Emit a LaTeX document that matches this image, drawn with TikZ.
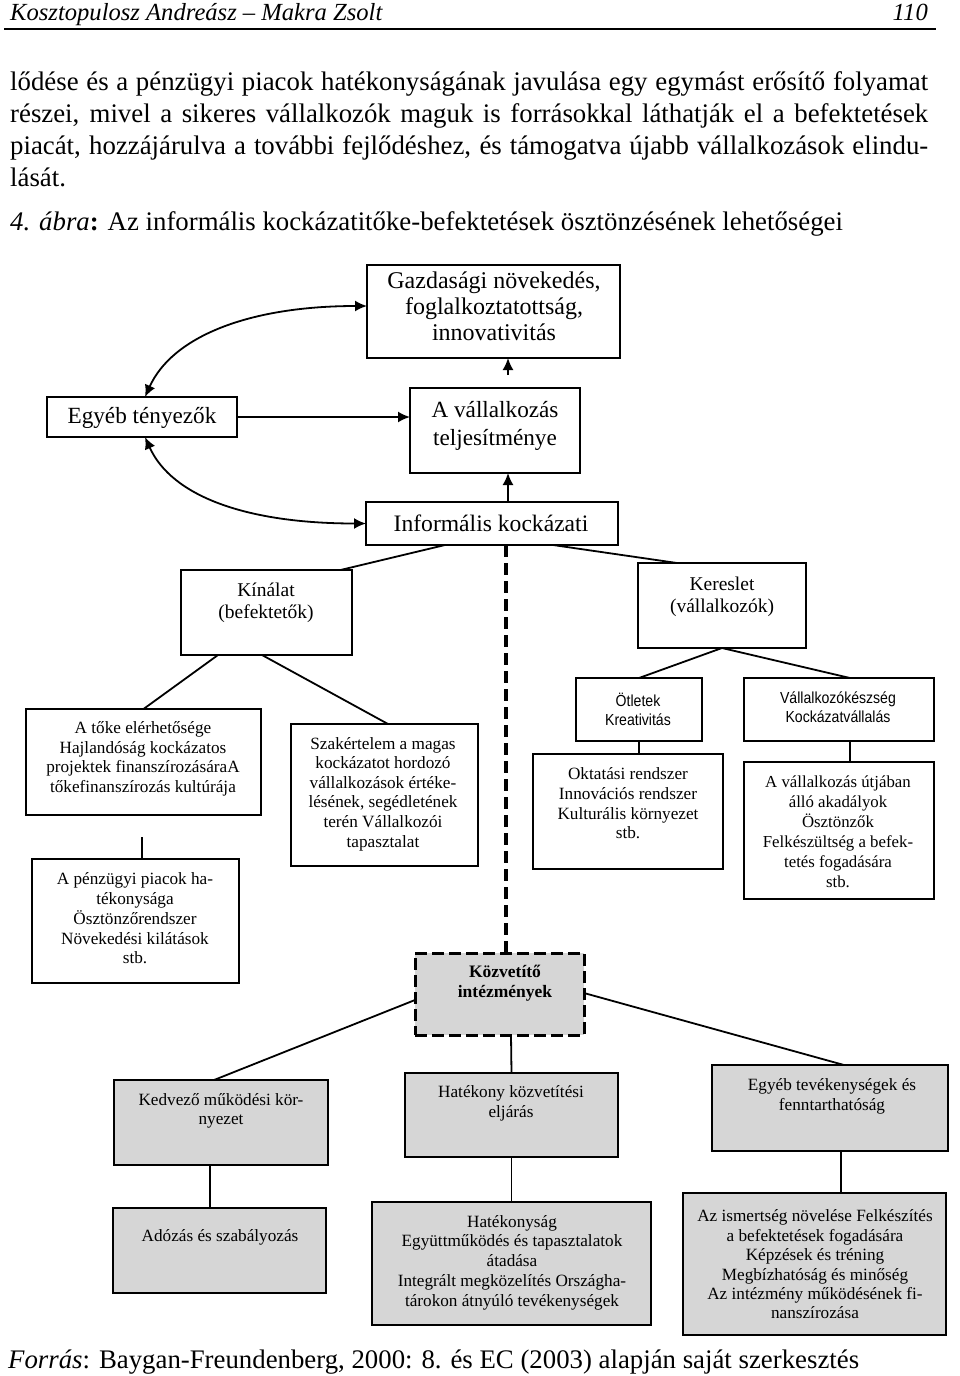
\documentclass[tikz,border=0pt]{standalone}
\usepackage{fontspec}
\setmainfont{Liberation Serif}
\newfontfamily\sansf[FakeStretch=0.88]{Liberation Sans}
\usetikzlibrary{arrows.meta}
\newcommand\fsz[2]{\fontsize{#1}{#2}\selectfont}
\begin{document}
\begin{tikzpicture}[x=1pt,y=-1pt,
  box/.style={draw, line width=1.8pt, inner sep=0pt, outer sep=0pt},
  gbox/.style={box, fill=black!16},
  kbox/.style={draw, fill=black!16, line width=3pt, dash pattern=on 12pt off 5pt, inner sep=0pt, outer sep=0pt},
  lbl/.style={align=center, inner sep=0pt},
  conn/.style={line width=1.8pt},
  arr/.style={line width=1.8pt, -{Latex[length=12pt,width=11pt]}},
  dbl/.style={line width=1.8pt, {Latex[length=12pt,width=11pt]}-{Latex[length=12pt,width=11pt]}},
  dashline/.style={line width=3.2pt, dash pattern=on 12pt off 6pt}
]
\useasboundingbox (0,0) rectangle (960,1376);
\fill[white] (0,0) rectangle (960,1376);

% header
\node[anchor=base west, inner sep=0pt, font=\fsz{24.6}{28}\itshape] (hd) at (10,20) {Kosztopulosz Andreász – Makra Zsolt};
\node[anchor=base east, inner sep=0pt, font=\fsz{24.6}{28}\itshape] (pg) at (928,20) {110};
\draw[line width=1.2pt] (4,29) -- (936,29);

% body
\node[anchor=base west, inner sep=0pt, font=\fsz{26.8}{32}] (p1) at (10,90) {\makebox[918pt][s]{lődése és a pénzügyi piacok hatékonyságának javulása egy egymást erősítő folyamat}};
\node[anchor=base west, inner sep=0pt, font=\fsz{26.8}{32}] (p2) at (10,122) {\makebox[918pt][s]{részei, mivel a sikeres vállalkozók maguk is forrásokkal láthatják el a befektetések}};
\node[anchor=base west, inner sep=0pt, font=\fsz{26.8}{32}] (p3) at (10,154) {\makebox[918pt][s]{piacát, hozzájárulva a további fejlődéshez, és támogatva újabb vállalkozások elindu-}};
\node[anchor=base west, inner sep=0pt, font=\fsz{26.8}{32}] (p4) at (10,186) {lását.};
\node[anchor=base west, inner sep=0pt, font=\fsz{26.8}{32}] (cap) at (10,230) {\textit{4. ábra}\textbf{:} Az informális kockázatitőke-befektetések ösztönzésének lehetőségei};

% top boxes
\node[box, minimum width=253pt, minimum height=93pt] (G) at (493.5,311.5) {};
\node[lbl, font=\fsz{24}{26}] (Gt) at (494,306) {Gazdasági növekedés,\\ foglalkoztatottság,\\ innovativitás};
\node[box, minimum width=190pt, minimum height=40pt] (E) at (142,417) {};
\node[lbl, font=\fsz{23.2}{26}] (Et) at (142,418) {Egyéb tényezők};
\node[box, minimum width=170pt, minimum height=85pt] (AV) at (495,430.5) {};
\node[lbl, font=\fsz{23.2}{28}] (AVt) at (495,426) {A vállalkozás\\ teljesítménye};
\node[box, minimum width=252pt, minimum height=43pt] (IK) at (492,523.5) {};
\node[lbl, font=\fsz{23.6}{26}] (IKt) at (491,523) {Informális kockázati};

% arrows top
\draw[arr] (E.east) -- (E.east -| AV.west);
\draw[arr] ([xshift=16pt]IK.north) -- ([xshift=16pt]IK.north |- AV.south);
\draw[arr, shorten <=13pt] ([xshift=13pt]AV.north) -- ([xshift=13pt]AV.north |- G.south);
\draw[dbl] ([xshift=3pt]E.north) .. controls (172,337) and (248,306) .. ([yshift=5.5pt]G.west);
\draw[dbl] ([xshift=3pt]E.south) .. controls (172,497) and (248,523.5) .. (IK.west);

% supply / demand
\node[box, minimum width=171pt, minimum height=85pt] (KI) at (266.5,612.5) {};
\node[lbl, font=\fsz{19.5}{22}] (KIt) at (266,603) {Kínálat\\ (befektetők)};
\node[box, minimum width=168pt, minimum height=85pt] (KE) at (722,605.5) {};
\node[lbl, font=\fsz{19.5}{22}] (KEt) at (722,597) {Kereslet\\ (vállalkozók)};
\draw[conn] ([xshift=-47pt]IK.south) -- ([xshift=74pt]KI.north);
\draw[conn] ([xshift=61pt]IK.south) -- ([xshift=-45pt]KE.north);

% left branch
\node[box, minimum width=235pt, minimum height=106pt] (AT) at (143.5,762) {};
\node[lbl, font=\fsz{17.2}{19.6}] (ATt) at (143,759) {A tőke elérhetősége\\ Hajlandóság kockázatos\\ projektek finanszírozásáraA\\ tőkefinanszírozás kultúrája};
\node[box, minimum width=207pt, minimum height=124pt] (PP) at (135.5,921) {};
\node[lbl, font=\fsz{17.2}{19.75}] (PPt) at (135,918.5) {A pénzügyi piacok ha-\\ tékonysága\\ Ösztönzőrendszer\\ Növekedési kilátások\\ stb.};
\node[box, minimum width=187pt, minimum height=142pt] (SZ) at (384.5,795) {};
\node[lbl, font=\fsz{17.2}{19.6}] (SZt) at (383,794) {Szakértelem a magas\\ kockázatot hordozó\\ vállalkozások értéke-\\ lésének, segédletének\\ terén Vállalkozói\\ tapasztalat};
\draw[conn] ([xshift=-48.5pt]KI.south) -- (AT.north);
\draw[conn] ([xshift=-4.5pt]KI.south) -- ([xshift=3.5pt]SZ.north);
\draw[conn, shorten <=22pt] ([xshift=-1.5pt]AT.south) -- ([xshift=6.5pt]PP.north);

% right branch
\node[box, minimum width=126pt, minimum height=63pt] (OT) at (639,709.5) {};
\node[lbl, font=\sansf\fsz{16}{19}] (OTt) at (638,709.5) {Ötletek\\ Kreativitás};
\node[box, minimum width=190pt, minimum height=63pt] (VK) at (839,709.5) {};
\node[lbl, font=\sansf\fsz{16}{19}] (VKt) at (838,707.5) {Vállalkozókészség\\ Kockázatvállalás};
\node[box, minimum width=190pt, minimum height=115pt] (OK) at (628,811.5) {};
\node[lbl, font=\fsz{17.2}{19.7}] (OKt) at (628,803.5) {Oktatási rendszer\\ Innovációs rendszer\\ Kulturális környezet\\ stb.};
\node[box, minimum width=190pt, minimum height=137pt] (VU) at (839,830.5) {};
\node[lbl, font=\fsz{16.8}{20}] (VUt) at (838,832) {A vállalkozás útjában\\ álló akadályok\\ Ösztönzők\\ Felkészültség a befek-\\ tetés fogadására\\ stb.};
\draw[conn] (KE.south) -- (OT.north);
\draw[conn] (KE.south) -- ([xshift=11pt]VK.north);
\draw[conn] (OT.south) -- (OT.south |- OK.north);
\draw[conn] ([xshift=11pt]VK.south) -- ([xshift=11pt]VU.north);

% intermediaries
\node[kbox, minimum width=169pt, minimum height=82pt] (KV) at (499.5,994) {};
\node[lbl, font=\fsz{17.5}{19.5}\bfseries] (KVt) at (505,983) {Közvetítő\\ intézmények};
\draw[dashline] ([xshift=14pt]IK.south) -- ([xshift=14pt]IK.south |- KV.north);

\node[gbox, minimum width=214pt, minimum height=85pt] (KD) at (221,1122.5) {};
\node[lbl, font=\fsz{17.2}{19}] (KDt) at (221,1111) {Kedvező működési kör-\\ nyezet};
\node[gbox, minimum width=213pt, minimum height=84pt] (HK) at (511.5,1115) {};
\node[lbl, font=\fsz{17.2}{20}] (HKt) at (511,1103) {Hatékony közvetítési\\ eljárás};
\node[gbox, minimum width=236pt, minimum height=86pt] (ET) at (830,1108) {};
\node[lbl, font=\fsz{17.2}{19.5}] (ETt) at (832,1096.5) {Egyéb tevékenységek és\\ fenntarthatóság};
\draw[conn] ([yshift=-6pt]KV.west) -- ([xshift=-7pt]KD.north);
\draw[conn] ([xshift=11.5pt]KV.south) -- (HK.north);
\draw[conn] ([yshift=1pt]KV.east) -- ([xshift=14pt]ET.north);

\node[gbox, minimum width=213pt, minimum height=85pt] (AD) at (219.5,1250.5) {};
\node[lbl, font=\fsz{17.2}{19.5}] (ADt) at (220,1237) {Adózás és szabályozás};
\node[gbox, minimum width=279pt, minimum height=123pt] (HS) at (511.5,1263.5) {};
\node[lbl, font=\fsz{17.2}{19.75}] (HSt) at (512,1262.5) {Hatékonyság\\ Együttműködés és tapasztalatok\\ átadása\\ Integrált megközelítés Országha-\\ tárokon átnyúló tevékenységek};
\node[gbox, minimum width=263pt, minimum height=142pt] (AI) at (814.5,1264) {};
\node[lbl, font=\fsz{17.2}{19.4}] (AIt) at (815,1264.5) {Az ismertség növelése Felkészítés\\ a befektetések fogadására\\ Képzések és tréning\\ Megbízhatóság és minőség\\ Az intézmény működésének fi-\\ nanszírozása};
\draw[conn] ([xshift=-11pt]KD.south) -- ([xshift=-9.5pt]AD.north);
\draw[conn] (HK.south) -- (HS.north);
\draw[conn] ([xshift=11pt]ET.south) -- ([xshift=26.5pt]AI.north);

% source
\node[anchor=base west, inner sep=0pt, font=\fsz{26.8}{32}] (src) at (8,1368) {\textit{Forrás}: Baygan-Freundenberg, 2000: 8. és EC (2003) alapján saját szerkesztés};
\end{tikzpicture}
\end{document}
